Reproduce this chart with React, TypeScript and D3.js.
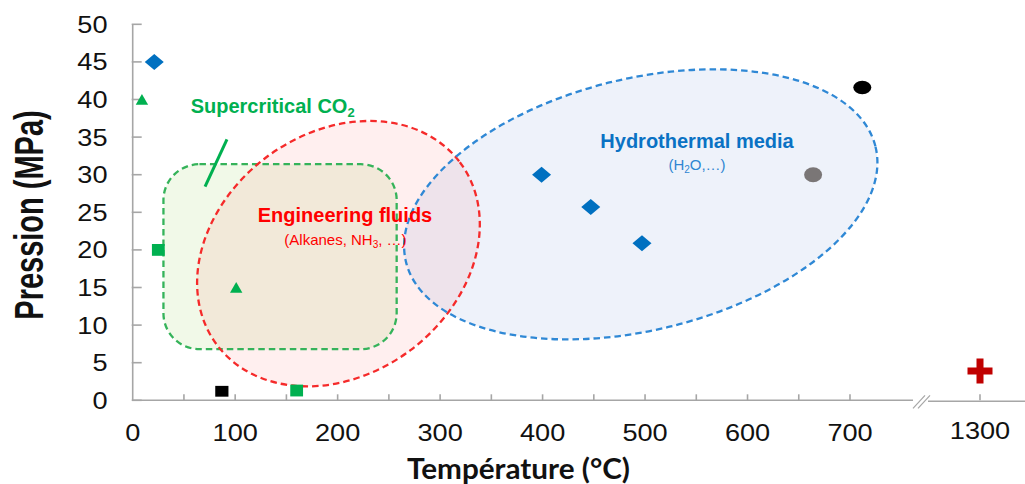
import React from "react";
import * as d3 from "d3";

// ---------- data ----------
const xTickValues = [0, 50, 100, 150, 200, 250, 300, 350, 400, 450, 500, 550, 600, 650, 700, 1300];
const xTickLabels = [0, 100, 200, 300, 400, 500, 600, 700, 1300];
const yTickValues = [0, 5, 10, 15, 20, 25, 30, 35, 40, 45, 50];

// [temperature °C, pressure MPa]
const blueDiamonds: [number, number][] = [[21, 45], [399, 30], [447, 25.7], [497, 20.9]];
const greenTriangles: [number, number][] = [[9, 40], [101, 15]];
const greenSquares: [number, number][] = [[25, 20], [160, 1.3]];
const blackSquares: [number, number][] = [[87, 1.2]];
const blackCircles: [number, number][] = [[712, 41.6]];
const grayCircles: [number, number][] = [[664, 30]];
const redCrosses: [number, number][] = [[1300, 3.9]];

// regions (domain units: center T, P; radii in °C; rotation deg)
const engineeringRegion = { t: 200.8, p: 19.5, a: 148.3, b: 117.5, rot: -37 };
const hydrothermalRegion = { t: 495.8, p: 26.06, a: 235.9, b: 122.7, rot: -13.8 };
const co2Region = { t0: 30, t1: 257.6, p0: 6.8, p1: 31.4 };
const co2Pointer: [number, number][] = [[92, 34.7], [70.6, 28.4]];

export default function App() {
  const pxPerDeg = 717.3 / 700;
  const x = d3
    .scaleLinear()
    .domain([0, 750, 1300])
    .range([132.7, 132.7 + 750 * pxPerDeg, 980]);
  const y = d3.scaleLinear().domain([0, 50]).range([400.3, 24.3]);
  const k = x(1) - x(0);

  const axisColor = "#a6a6a6";
  const sans = "'Liberation Sans', Arial, sans-serif";
  const green = "#00b050";
  const dash = "6.5 4";
  const sw = 2.3;

  const x0 = x(0);
  const y0 = y(0);
  const breakX = x(700) + 63;

  const diamond = "M0,-8L9.5,0L0,8L-9.5,0Z";
  const triangle = "M0,-5.6L6.2,5.2L-6.2,5.2Z";
  const cross = "M-3.5,-12.5h7v9h9v7h-9v9h-7v-9h-9v-7h9Z";

  const eng = engineeringRegion;
  const hyd = hydrothermalRegion;

  return (
    <svg
      width={1025}
      height={484}
      style={{ position: "fixed", left: 0, top: 0, background: "#fff" }}
    >
      {/* region fills */}
      <rect
        x={x(co2Region.t0)}
        y={y(co2Region.p1)}
        width={x(co2Region.t1) - x(co2Region.t0)}
        height={y(co2Region.p0) - y(co2Region.p1)}
        rx={36}
        fill="rgba(146,208,80,0.13)"
      />
      <ellipse
        cx={x(eng.t)}
        cy={y(eng.p)}
        rx={eng.a * k}
        ry={eng.b * k}
        transform={`rotate(${eng.rot} ${x(eng.t)} ${y(eng.p)})`}
        fill="rgba(255,40,40,0.075)"
      />
      <ellipse
        cx={x(hyd.t)}
        cy={y(hyd.p)}
        rx={hyd.a * k}
        ry={hyd.b * k}
        transform={`rotate(${hyd.rot} ${x(hyd.t)} ${y(hyd.p)})`}
        fill="rgba(68,114,196,0.09)"
      />
      {/* region outlines */}
      <rect
        x={x(co2Region.t0)}
        y={y(co2Region.p1)}
        width={x(co2Region.t1) - x(co2Region.t0)}
        height={y(co2Region.p0) - y(co2Region.p1)}
        rx={36}
        fill="none"
        stroke="#35b35a"
        strokeWidth={sw}
        strokeDasharray={dash}
      />
      <ellipse
        cx={x(eng.t)}
        cy={y(eng.p)}
        rx={eng.a * k}
        ry={eng.b * k}
        transform={`rotate(${eng.rot} ${x(eng.t)} ${y(eng.p)})`}
        fill="none"
        stroke="#f52a2a"
        strokeWidth={sw}
        strokeDasharray={dash}
      />
      <ellipse
        cx={x(hyd.t)}
        cy={y(hyd.p)}
        rx={hyd.a * k}
        ry={hyd.b * k}
        transform={`rotate(${hyd.rot} ${x(hyd.t)} ${y(hyd.p)})`}
        fill="none"
        stroke="#2f88d5"
        strokeWidth={sw}
        strokeDasharray={dash}
      />

      {/* CO2 pointer */}
      <line
        x1={x(co2Pointer[0][0])}
        y1={y(co2Pointer[0][1])}
        x2={x(co2Pointer[1][0])}
        y2={y(co2Pointer[1][1])}
        stroke={green}
        strokeWidth={3}
      />

      {/* region labels */}
      <text x={x(56.6)} y={y(38.2)} fontFamily={sans} fontWeight="bold" fontSize={20} fill={green}>
        Supercritical CO<tspan fontSize={13} dy={4}>2</tspan>
      </text>
      <text x={x(207.2)} y={y(23.75)} fontFamily={sans} fontWeight="bold" fontSize={20} fill="#ff0000" textAnchor="middle">
        Engineering fluids
      </text>
      <text x={x(207.6)} y={y(20.6)} fontFamily={sans} fontSize={15} fill="#ff0000" textAnchor="middle">
        (Alkanes, NH<tspan fontSize={10} dy={3}>3</tspan><tspan dy={-3}>, …)</tspan>
      </text>
      <text x={x(550.7)} y={y(33.55)} fontFamily={sans} fontWeight="bold" fontSize={20} fill="#0a72c4" textAnchor="middle">
        Hydrothermal media
      </text>
      <text x={x(550.7)} y={y(30.6)} fontFamily={sans} fontSize={15} fill="#2f86d2" textAnchor="middle">
        (H<tspan fontSize={10} dy={3}>2</tspan><tspan dy={-3}>O,…)</tspan>
      </text>

      {/* axes */}
      <g stroke={axisColor} strokeWidth={1.6} fill="none">
        <line x1={x0} y1={y(50)} x2={x0} y2={y0} />
        <line x1={x0} y1={y0} x2={breakX} y2={y0} />
        <line x1={breakX + 15} y1={y0 + 1} x2={1025} y2={y0 + 1} />
        <line x1={breakX} y1={y0 + 8} x2={breakX + 12} y2={y0 - 5} strokeWidth={1.2} />
        <line x1={breakX + 5} y1={y0 + 8} x2={breakX + 17} y2={y0 - 5} strokeWidth={1.2} />
        {yTickValues.map((v) => (
          <line key={"yt" + v} x1={x0 - 1} y1={y(v)} x2={x0 + 9} y2={y(v)} />
        ))}
        {xTickValues.filter((v) => v !== 0).map((v) => (
          <line key={"xt" + v} x1={x(v)} y1={y0} x2={x(v)} y2={y0 - 6} />
        ))}
      </g>
      {yTickValues.map((v) => (
        <text
          key={"yl" + v}
          transform={`translate(107.5 ${y(v) + 8.5}) scale(1.18 1)`}
          textAnchor="end"
          fontFamily={sans}
          fontSize={23}
          fill="#111"
        >
          {v}
        </text>
      ))}
      {xTickLabels.map((v) => (
        <text
          key={"xl" + v}
          transform={`translate(${x(v)} ${v === 1300 ? 438.5 : 441}) scale(1.18 1)`}
          textAnchor="middle"
          fontFamily={sans}
          fontSize={23}
          fill="#111"
        >
          {v}
        </text>
      ))}
      <text
        transform="translate(43 215) scale(1.4 1) rotate(-90)"
        textAnchor="middle"
        fontFamily={sans}
        fontWeight="bold"
        fontSize={29}
        fill="#111"
      >
        Pression (MPa)
      </text>
      <text
        x={407}
        y={479}
        fontFamily="Lato, 'Open Sans', sans-serif"
        fontWeight="bold"
        fontSize={28}
        textLength={223}
        lengthAdjust="spacingAndGlyphs"
        fill="#111"
      >
        Température (°C)
      </text>

      {/* markers */}
      {blueDiamonds.map(([t, p], i) => (
        <path key={"bd" + i} d={diamond} transform={`translate(${x(t)},${y(p)})`} fill="#0070c0" />
      ))}
      {greenTriangles.map(([t, p], i) => (
        <path key={"gt" + i} d={triangle} transform={`translate(${x(t)},${y(p)})`} fill={green} />
      ))}
      {greenSquares.map(([t, p], i) => (
        <rect key={"gs" + i} x={x(t) - 6.4} y={y(p) - 5.9} width={12.8} height={11.8} fill={green} />
      ))}
      {blackSquares.map(([t, p], i) => (
        <rect key={"bs" + i} x={x(t) - 6.6} y={y(p) - 5.4} width={13.2} height={10.8} fill="#000" />
      ))}
      {blackCircles.map(([t, p], i) => (
        <ellipse key={"bc" + i} cx={x(t)} cy={y(p)} rx={9} ry={6.8} fill="#000" />
      ))}
      {grayCircles.map(([t, p], i) => (
        <ellipse key={"gc" + i} cx={x(t)} cy={y(p)} rx={9} ry={7.5} fill="#7a7676" />
      ))}
      {redCrosses.map(([t, p], i) => (
        <path key={"rc" + i} d={cross} transform={`translate(${x(t)},${y(p)})`} fill="#c00000" />
      ))}
    </svg>
  );
}
